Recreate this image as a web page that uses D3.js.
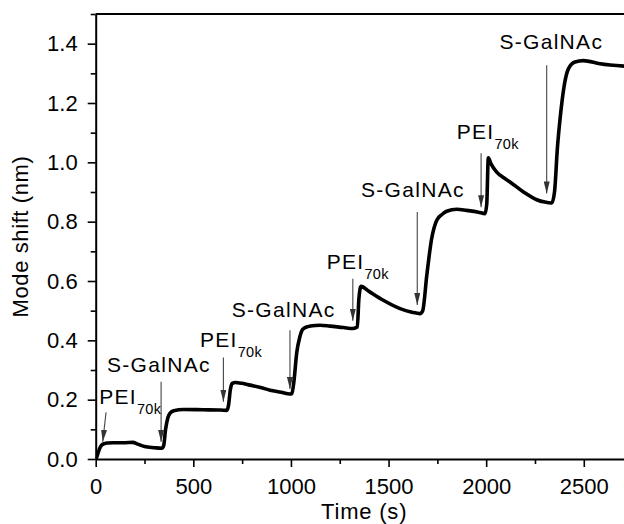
<!DOCTYPE html>
<html>
<head>
<meta charset="utf-8">
<script src="https://cdn.jsdelivr.net/npm/d3@7"></script>
<style>
  html, body { margin: 0; padding: 0; background: #fff; }
  svg { display: block; }
  text { font-family: "Liberation Sans", Arial, sans-serif; fill: #000; }
</style>
</head>
<body>
<div id="chart"></div>
<script>
// Whispering-gallery mode shift during layer-by-layer deposition
const timeSec = [0, 5, 13, 22, 31, 45, 60, 90, 150, 190, 215, 250, 300, 338, 348, 358, 370, 381, 400, 450, 550, 640,
  671, 680, 690, 700, 715, 750, 790, 850, 893, 950, 995, 1005, 1015, 1030, 1045, 1060, 1080, 1100, 1149, 1200, 1270,
  1318, 1340, 1348, 1359, 1400, 1473, 1559, 1620, 1661, 1675, 1696, 1720, 1747, 1775, 1798, 1850, 1900, 1960,
  1994, 2003, 2011, 2025, 2054, 2090, 2122, 2191, 2259, 2300, 2336, 2350, 2365, 2379, 2400, 2421, 2455, 2498,
  2583, 2710];
const modeShift = [0.000, 0.006, 0.022, 0.038, 0.047, 0.052, 0.054, 0.055, 0.055, 0.056, 0.050, 0.042, 0.038, 0.036, 0.045,
  0.100, 0.140, 0.155, 0.163, 0.167, 0.166, 0.165, 0.164, 0.180, 0.235, 0.255, 0.258, 0.255, 0.249, 0.240,
  0.232, 0.225, 0.219, 0.221, 0.260, 0.360, 0.410, 0.437, 0.445, 0.448, 0.451, 0.448, 0.443, 0.440, 0.445, 0.540,
  0.582, 0.565, 0.535, 0.507, 0.495, 0.490, 0.500, 0.620, 0.740, 0.805, 0.825, 0.835, 0.842, 0.838, 0.832,
  0.827, 0.860, 1.015, 0.995, 0.967, 0.948, 0.934, 0.900, 0.874, 0.866, 0.863, 0.900, 1.050, 1.150, 1.260,
  1.315, 1.338, 1.343, 1.332, 1.324];

// Injection annotations: arrow time, arrow top/tip (nm), label anchor (time, nm)
const annName    = ["PEI", "S-GalNAc", "PEI", "S-GalNAc", "PEI", "S-GalNAc", "PEI", "S-GalNAc"];
const annSub     = ["70k", "", "70k", "", "70k", "", "70k", ""];
const annTimeTop = [53, 335, 654, 995, 1317, 1647, 1974, 2310];
const annTimeTip = [36, 335, 654, 995, 1317, 1647, 1974, 2310];
const annTop     = [0.157, 0.260, 0.342, 0.434, 0.608, 0.833, 1.031, 1.327];
const annTip     = [0.058, 0.058, 0.193, 0.236, 0.466, 0.519, 0.849, 0.895];
const labelTime  = [18, 58, 534, 697, 1183, 1359, 1849, 2068];
const labelShift = [0.187, 0.293, 0.376, 0.477, 0.642, 0.882, 1.080, 1.383];

const xTicks = [0, 500, 1000, 1500, 2000, 2500];
const xMinorTicks = [250, 750, 1250, 1750, 2250, 2750];
const yTicks = [0.0, 0.2, 0.4, 0.6, 0.8, 1.0, 1.2, 1.4];
const yMinorTicks = [0.1, 0.3, 0.5, 0.7, 0.9, 1.1, 1.3, 1.5];

const W = 624, H = 524;
const plotLeft = 95.7, plotTop = 14, plotBottom = 459, plotRight = 632.6;
const fontPx = 22;

const svg = d3.select("#chart").append("svg").attr("width", W).attr("height", H);

const x = d3.scaleLinear().domain([0, 2750]).range([plotLeft, plotRight]);
const y = d3.scaleLinear().domain([0, 1.5]).range([plotBottom, plotTop]);

const defs = svg.append("defs");
defs.append("clipPath").attr("id", "plotClip")
  .append("rect").attr("x", plotLeft).attr("y", plotTop)
  .attr("width", plotRight - plotLeft).attr("height", plotBottom - plotTop);

const marker = defs.append("marker")
  .attr("id", "arrowHead")
  .attr("markerUnits", "userSpaceOnUse")
  .attr("viewBox", "0 -3 12 6")
  .attr("refX", 12).attr("refY", 0)
  .attr("markerWidth", 12).attr("markerHeight", 6)
  .attr("orient", "auto");
marker.append("path").attr("d", "M0,-3L12,0L0,3Z").attr("fill", "#333");

// Frame: top and right edges
svg.append("line").attr("x1", plotLeft).attr("x2", plotRight).attr("y1", y(1.5)).attr("y2", y(1.5))
  .attr("stroke", "#000").attr("stroke-width", 2);
svg.append("line").attr("x1", plotRight).attr("x2", plotRight).attr("y1", plotTop).attr("y2", plotBottom)
  .attr("stroke", "#000").attr("stroke-width", 2);

function styleAxis(g) {
  g.select(".domain").attr("stroke", "#000").attr("stroke-width", 2);
  g.selectAll(".tick line").attr("stroke", "#000").attr("stroke-width", 1.6);
  g.selectAll(".tick text").attr("font-size", fontPx).attr("fill", "#000")
    .attr("font-family", "'Liberation Sans', Arial, sans-serif");
}

// Minor ticks
svg.append("g").attr("transform", `translate(0,${plotBottom})`)
  .call(d3.axisBottom(x).tickValues(xMinorTicks).tickSize(5).tickFormat(""))
  .call(g => { styleAxis(g); g.select(".domain").remove(); });
svg.append("g").attr("transform", `translate(${plotLeft},0)`)
  .call(d3.axisLeft(y).tickValues(yMinorTicks).tickSize(5).tickFormat(""))
  .call(g => { styleAxis(g); g.select(".domain").remove(); });

// Major axes
svg.append("g").attr("transform", `translate(0,${plotBottom})`)
  .call(d3.axisBottom(x).tickValues(xTicks).tickSize(8).tickPadding(11).tickSizeOuter(0).tickFormat(d3.format("d")))
  .call(styleAxis);
svg.append("g").attr("transform", `translate(${plotLeft},0)`)
  .call(d3.axisLeft(y).tickValues(yTicks).tickSize(8).tickPadding(10).tickSizeOuter(0).tickFormat(d3.format(".1f")))
  .call(styleAxis);

// Axis titles
svg.append("text").attr("x", (plotLeft + plotRight) / 2).attr("y", 519)
  .attr("text-anchor", "middle").attr("font-size", fontPx).attr("letter-spacing", 0.8).text("Time (s)");
svg.append("text").attr("transform", `translate(28,${(plotTop + plotBottom) / 2}) rotate(-90)`)
  .attr("text-anchor", "middle").attr("font-size", fontPx).attr("letter-spacing", 0.6).text("Mode shift (nm)");

// Data trace
const series = timeSec.map((t, i) => [t, modeShift[i]]);
svg.append("path")
  .datum(series)
  .attr("clip-path", "url(#plotClip)")
  .attr("fill", "none")
  .attr("stroke", "#000")
  .attr("stroke-width", 3.6)
  .attr("stroke-linejoin", "round")
  .attr("stroke-linecap", "round")
  .attr("d", d3.line().x(d => x(d[0])).y(d => y(d[1])).curve(d3.curveMonotoneX));

// Injection arrows and labels
annName.forEach((name, i) => {
  svg.append("line")
    .attr("x1", x(annTimeTop[i])).attr("y1", y(annTop[i]))
    .attr("x2", x(annTimeTip[i])).attr("y2", y(annTip[i]))
    .attr("stroke", "#444").attr("stroke-width", 1.1)
    .attr("marker-end", "url(#arrowHead)");

  const t = svg.append("text")
    .attr("x", x(labelTime[i])).attr("y", y(labelShift[i]))
    .attr("font-size", 21);
  t.append("tspan").attr("letter-spacing", 1.3).text(name);
  if (annSub[i]) {
    t.append("tspan").attr("font-size", 14.5).attr("letter-spacing", 0.3)
      .attr("dy", 10).attr("dx", 0).text(annSub[i]);
  }
});
</script>
</body>
</html>
